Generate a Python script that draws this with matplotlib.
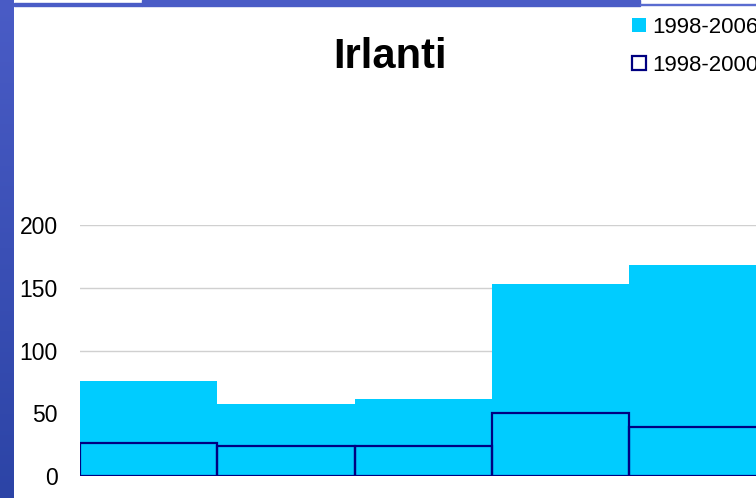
import numpy as np
import matplotlib.pyplot as plt
from matplotlib.patches import Patch, Rectangle
from matplotlib.colors import LinearSegmentedColormap

plt.rcParams['font.family'] = ['Liberation Sans', 'DejaVu Sans']

# values
categories = ['1', '2', '3', '4', '5']
series_2006 = [76, 57, 61, 153, 168]
series_2000 = [26, 24, 24, 50, 39]
yticks = [0, 50, 100, 150, 200]
labels = ['1998-2006', '1998-2000']

cyan = '#00ccff'
navy = '#000080'

W, H = 756, 498
fig = plt.figure(figsize=(W / 100, H / 100), dpi=100)

# slide decoration: left gradient strip and top bar
strip = fig.add_axes([0, 0, 14 / W, 1])
grad = np.linspace(0, 1, 256).reshape(-1, 1)
cmap = LinearSegmentedColormap.from_list('s', ['#4a5cc6', '#2c44a6'])
strip.imshow(grad, aspect='auto', cmap=cmap, extent=[0, 1, 0, 1], origin='upper')
strip.axis('off')

def px_rect(x0, y0, x1, y1, color):
    fig.patches.append(Rectangle((x0 / W, 1 - y1 / H), (x1 - x0) / W, (y1 - y0) / H,
                                 transform=fig.transFigure, color=color, zorder=5))

px_rect(14, 3, 142, 6, '#4a5cc6')
px_rect(142, 0, 640, 6, '#4a5cc6')
px_rect(640, 4.5, W, 5.5, '#5a6cd0')

# chart area
left, right = 80, 766.5
top, bottom = 225, 476
ax = fig.add_axes([left / W, 1 - bottom / H, (right - left) / W, (bottom - top) / H])

x = np.arange(len(categories))
ax.bar(x, series_2006, width=1.0, align='edge', color=cyan, edgecolor='none', zorder=2)
ax.bar(x, series_2000, width=1.0, align='edge', fill=False, edgecolor=navy,
       linewidth=1.6, zorder=3)

ax.set_xlim(0, len(categories))
ax.set_ylim(0, 200)
ax.set_yticks(yticks)
ax.set_xticks([])
ax.tick_params(axis='y', length=0, pad=16, labelsize=16.5)
ax.yaxis.grid(True, color='#d0d0d0', linewidth=1)
ax.set_axisbelow(True)
for s in ax.spines.values():
    s.set_visible(False)
ax.patch.set_alpha(0)

fig.text(390 / W, 1 - 68 / H, 'Irlanti', ha='center', va='baseline',
         fontsize=30, fontweight='bold')

handles = [Patch(facecolor=cyan, edgecolor='none'),
           Patch(facecolor='white', edgecolor=navy, linewidth=1.6)]
fig.legend(handles, labels, loc='upper left', bbox_to_anchor=(632 / W, 1 - 17 / H),
           frameon=False, fontsize=16, handlelength=0.62, handleheight=0.62,
           handletextpad=0.3, labelspacing=0.75, borderpad=0, borderaxespad=0)

fig.savefig('out.png', dpi=100)
